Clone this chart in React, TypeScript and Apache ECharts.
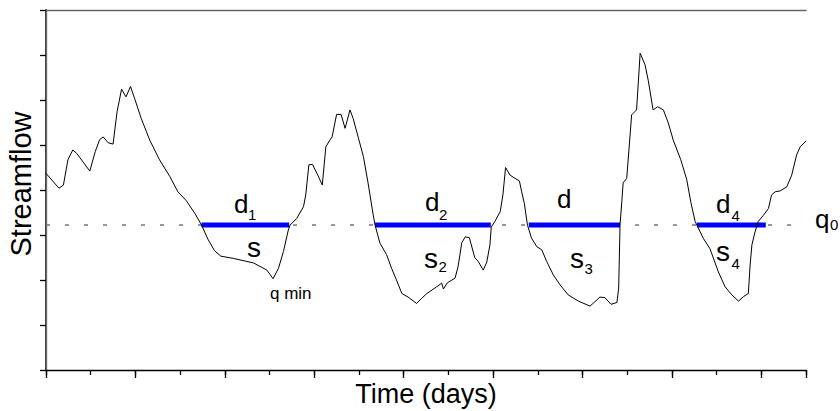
import React, { useEffect, useRef } from "react";
import * as echarts from "echarts";

// Time (days) and streamflow
const days = [
  0, 2.9, 3.9, 4.9, 6.0, 6.9, 9.8, 11.0, 12.0, 12.8,
  13.9, 15.0, 15.9, 16.9, 17.9, 18.9, 19.8, 21.3, 23.2, 25.4,
  27.7, 29.5, 31.4, 33.3, 34.8, 36.2, 37.7, 39.1, 41.9, 46.4,
  49.4, 50.8, 52.0, 53.1, 54.2, 54.6, 56.1, 57.6, 58.1, 58.8,
  59.6, 60.8, 61.8, 62.6, 63.5, 64.0, 65.0, 66.0, 66.9, 68.0,
  68.7, 69.9, 71.0, 72.0, 73.2, 73.6, 74.7, 76.2, 77.3, 78.4,
  79.6, 81.0, 82.9, 84.0, 85.2, 87.4, 88.5, 88.9, 89.8, 91.5,
  92.2, 93.0, 93.8, 94.7, 95.9, 96.7, 97.8, 98.6, 99.3, 99.6,
  100.4, 101.6, 102.2, 102.8, 103.8, 104.9, 105.9, 106.4, 107.0, 107.7,
  108.6, 109.8, 110.9, 112.0, 113.5, 115.0, 116.8, 119.1, 121.7, 122.8,
  123.9, 125.0, 126.4, 127.7, 128.1, 128.4, 128.8, 129.1, 129.9, 131.0,
  132.1, 132.9, 134.0, 134.7, 135.8, 136.8, 138.1, 139.2, 140.3, 142.0,
  143.3, 144.3, 145.2, 145.8, 147.0, 148.5, 150.4, 151.9, 153.4, 154.9,
  156.0, 157.1, 157.5, 157.9, 158.6, 159.3, 160.5, 161.6, 162.3, 163.1,
  164.2, 165.7, 166.8, 167.9, 168.7, 170,
];
const flows = [
  4.37, 4.04, 4.11, 4.67, 4.89, 4.81, 4.42, 4.85, 5.12, 5.18,
  5.05, 5.02, 5.74, 6.24, 6.07, 6.3, 6.04, 5.59, 5.11, 4.67,
  4.3, 3.96, 3.76, 3.48, 3.22, 2.91, 2.65, 2.53, 2.48, 2.38,
  2.22, 2.03, 2.26, 2.63, 3.11, 3.22, 3.37, 3.63, 3.89, 4.56,
  4.57, 4.33, 4.11, 4.96, 5.11, 5.18, 5.68, 5.68, 5.37, 5.78,
  5.59, 5.15, 4.74, 4.18, 3.44, 3.22, 2.82, 2.56, 2.26, 2.0,
  1.7, 1.62, 1.48, 1.59, 1.7, 1.85, 1.93, 1.8, 1.94, 2.04,
  2.31, 2.83, 2.96, 2.94, 2.5, 2.41, 2.22, 2.4, 2.78, 3.18,
  3.3, 3.52, 3.89, 4.5, 4.33, 4.26, 4.2, 3.96, 3.7, 3.22,
  2.93, 2.74, 2.67, 2.41, 2.11, 1.89, 1.67, 1.53, 1.42, 1.52,
  1.62, 1.61, 1.46, 1.5, 1.82, 3.22, 3.74, 4.16, 4.26, 5.67,
  5.78, 7.04, 6.78, 6.44, 5.78, 5.85, 5.78, 5.49, 5.11, 4.67,
  4.24, 3.7, 3.3, 3.18, 2.93, 2.7, 2.18, 1.85, 1.67, 1.53,
  1.63, 1.7, 2.33, 2.78, 3.07, 3.3, 3.44, 3.59, 3.89, 3.96,
  3.98, 4.07, 4.33, 4.78, 4.96, 5.09,
];
// threshold q0 and drought periods
const threshold = 3.22;
const droughtStart = [34.8, 73.6, 108.0, 145.6];
const droughtEnd = [54.4, 99.5, 128.4, 161.0];

const xMin = 0;
const xMax = 170;
const yMin = 0;
const yMax = 8;

const FONT = "'Liberation Sans', Arial, Helvetica, sans-serif";

export default function App() {
  const ref = useRef<HTMLDivElement>(null);
  useEffect(() => {
    if (!ref.current) return;
    const chart = echarts.init(ref.current, null, { renderer: "svg" });
    const flowData = days.map((d, i) => [d, flows[i]]);
    const droughtSeries = droughtStart.map((s, i) => ({
      type: "line",
      data: [
        [s, threshold],
        [droughtEnd[i], threshold],
      ],
      symbol: "none",
      silent: true,
      z: 3,
      lineStyle: { color: "#0000ff", width: 5, cap: "butt" },
    }));
    const txt = (text: string, x: number, y: number, size: number, extra: any = {}) => ({
      type: "text",
      x,
      y,
      ...extra,
      style: {
        text,
        fontSize: size,
        fontFamily: FONT,
        fill: "#000",
        align: "left",
        verticalAlign: "middle",
        ...(extra.style || {}),
      },
    });
    chart.setOption({
      animation: false,
      backgroundColor: "#ffffff",
      grid: { left: 46, right: 34, top: 10, bottom: 41 },
      xAxis: [
        {
          type: "value",
          min: xMin,
          max: xMax,
          interval: 10,
          position: "bottom",
          axisLine: { show: true, lineStyle: { color: "#000", width: 1.3 } },
          axisTick: { show: true, length: 5, lineStyle: { color: "#000", width: 1.3 } },
          axisLabel: { show: false },
          splitLine: { show: false },
        },
        {
          type: "value",
          min: xMin,
          max: xMax,
          interval: 20,
          position: "bottom",
          axisLine: { show: false },
          axisTick: { show: true, length: 8, lineStyle: { color: "#000", width: 1.3 } },
          axisLabel: { show: false },
          splitLine: { show: false },
        },
        {
          type: "value",
          min: xMin,
          max: xMax,
          position: "top",
          axisLine: { show: true, lineStyle: { color: "#666", width: 1.3 } },
          axisTick: { show: false },
          axisLabel: { show: false },
          splitLine: { show: false },
        },
      ],
      yAxis: [
        {
          type: "value",
          min: yMin,
          max: yMax,
          interval: 1,
          position: "left",
          axisLine: { show: true, lineStyle: { color: "#000", width: 1.5 } },
          axisTick: { show: true, length: 6, lineStyle: { color: "#000", width: 1.3 } },
          axisLabel: { show: false },
          splitLine: { show: false },
        },
        {
          type: "value",
          min: yMin,
          max: yMax,
          position: "right",
          axisLine: { show: true, lineStyle: { color: "#666", width: 1.3 } },
          axisTick: { show: false },
          axisLabel: { show: false },
          splitLine: { show: false },
        },
      ],
      series: [
        {
          type: "line",
          data: [
            [xMin, threshold],
            [xMax, threshold],
          ],
          symbol: "none",
          silent: true,
          z: 1,
          lineStyle: { color: "#777", width: 1.5, type: [4, 15] },
        },
        ...droughtSeries,
        {
          type: "line",
          data: flowData,
          symbol: "none",
          silent: true,
          z: 4,
          lineStyle: { color: "#000", width: 1 },
        },
      ],
      graphic: [
        txt("Streamflow", 21, 184, 29, { rotation: Math.PI / 2, style: { align: "center" } }),
        txt("Time (days)", 426, 393.5, 27, { style: { align: "center" } }),
        txt("d", 234, 204, 26),
        txt("1", 248, 214, 15),
        txt("s", 247, 247, 28),
        txt("q min", 270, 293, 17),
        txt("d", 425, 202, 26),
        txt("2", 439, 214, 15),
        txt("s", 424, 258, 28),
        txt("2", 438.5, 266, 15),
        txt("d", 557, 199, 26),
        txt("s", 570, 258, 28),
        txt("3", 584.5, 268, 15),
        txt("d", 716, 204, 26),
        txt("4", 731.5, 215, 15),
        txt("s", 716, 251, 28),
        txt("4", 731.5, 263, 15),
        txt("q", 815, 219, 26),
        txt("0", 830, 224, 15),
      ],
    });
    return () => chart.dispose();
  }, []);
  return (
    <div
      ref={ref}
      style={{ position: "fixed", left: 0, top: 0, width: 840, height: 411, background: "#fff" }}
    />
  );
}
